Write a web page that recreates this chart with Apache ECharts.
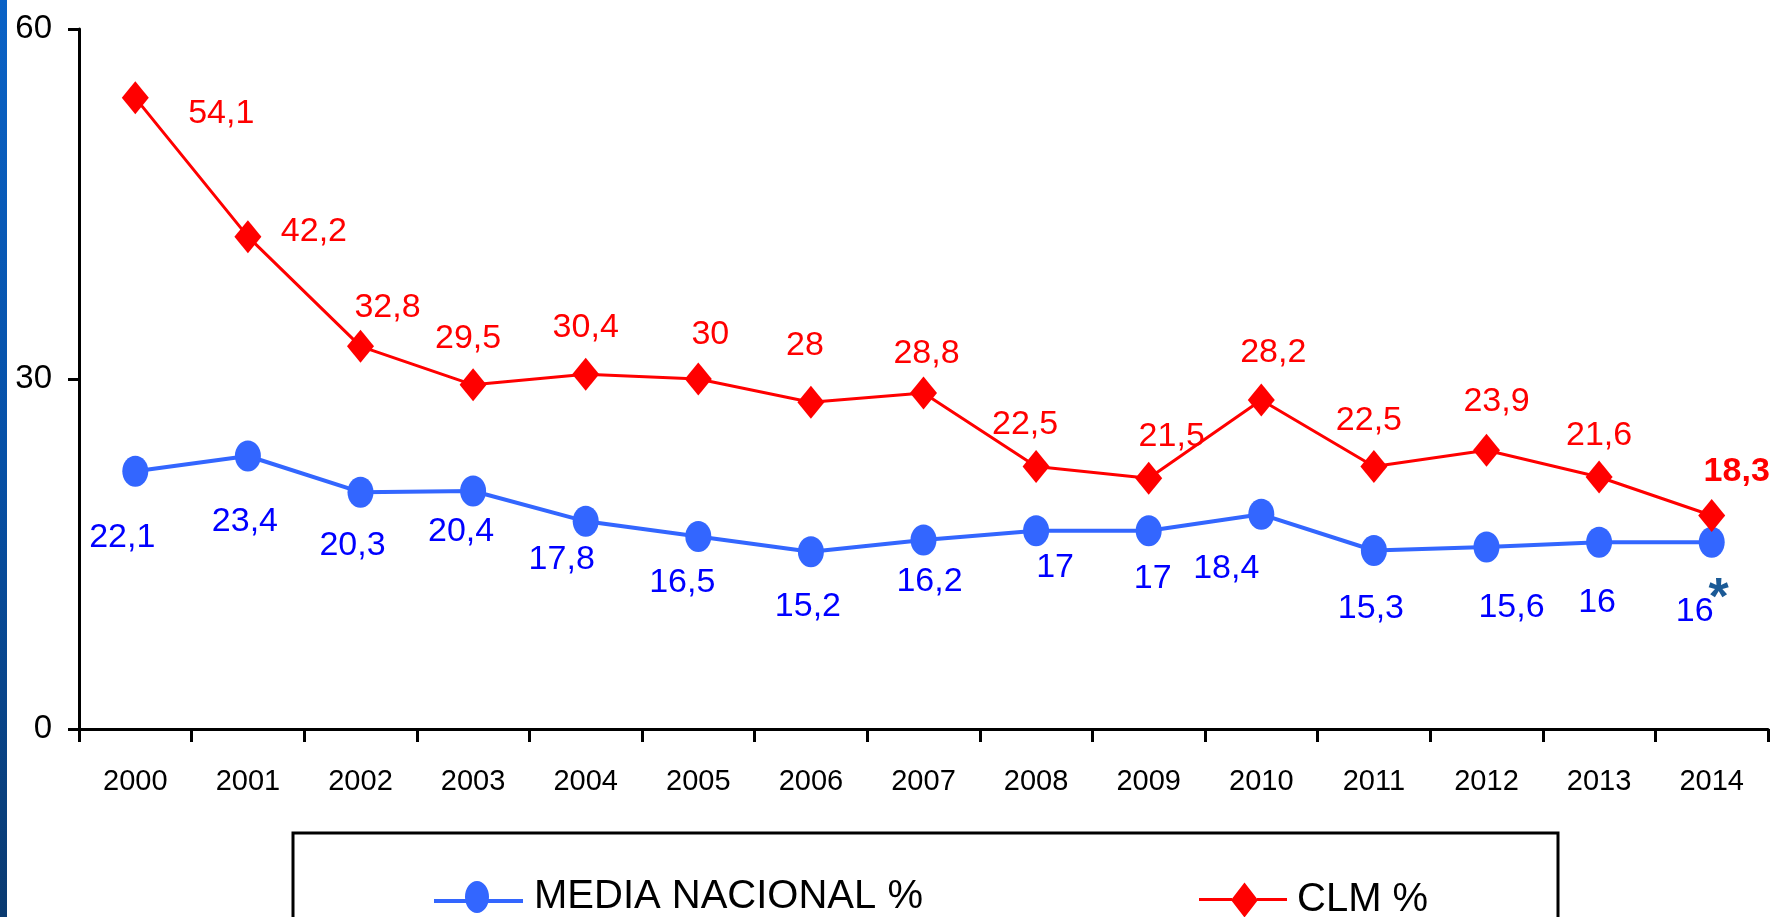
<!DOCTYPE html>
<html><head><meta charset="utf-8">
<script src="https://cdn.jsdelivr.net/npm/echarts@6/dist/echarts.min.js"></script>
<style>html,body{margin:0;padding:0;background:#fff}#c{width:1781px;height:917px}</style>
</head><body><div id="c"></div>
<script>
const years = ['2000','2001','2002','2003','2004','2005','2006','2007','2008','2009','2010','2011','2012','2013','2014'];
const mediaNacional = [22.1, 23.4, 20.3, 20.4, 17.8, 16.5, 15.2, 16.2, 17, 17, 18.4, 15.3, 15.6, 16, 16];
const clm = [54.1, 42.2, 32.8, 29.5, 30.4, 30, 28, 28.8, 22.5, 21.5, 28.2, 22.5, 23.9, 21.6, 18.3];
const yMin = 0, yMax = 60, yStep = 30;
const seriesNames = ['MEDIA NACIONAL %', 'CLM %'];

// label placement (styling only)
const clmLabelOffset = [[86,16],[66,-5],[27,-39],[-5,-46],[0,-47],[12,-44],[-6,-57],[3,-39],[-11,-42],[23,-42],[12,-47],[-5,-46],[10,-49],[0,-41],[25,-44]];
const mediaLabelOffset = [[-13,66],[-3,66],[-8,53],[-12,41],[-24,38],[-16,46],[-3,55],[6,42],[19,37],[4,48],[-35,54],[-3,58],[25,61],[-2,60],[-17,69]];

const FONT = "'Liberation Sans',Arial,sans-serif";
const fmt = v => String(v).replace('.', ',');

const chart = echarts.init(document.getElementById('c'));
chart.setOption({
  animation: false,
  backgroundColor: '#fff',
  grid: { left: 79, right: 13, top: 29, bottom: 188, containLabel: false },
  graphic: [
    { type: 'rect', shape: { x: 0, y: 0, width: 7, height: 917 }, z: 0,
      style: { fill: new echarts.graphic.LinearGradient(0, 0, 0, 1, [
        { offset: 0, color: '#0a62c6' }, { offset: 0.5, color: '#0650a6' }, { offset: 1, color: '#0a3a70' }]) } },
    { type: 'rect', shape: { x: 293, y: 833, width: 1265, height: 130 }, z: 0,
      style: { fill: 'none', stroke: '#000', lineWidth: 3 } }
  ],
  xAxis: {
    type: 'category', data: years, boundaryGap: true,
    axisLine: { lineStyle: { color: '#000', width: 3 } },
    axisTick: { show: true, length: 13, lineStyle: { color: '#000', width: 3 } },
    axisLabel: { color: '#000', fontFamily: FONT, fontSize: 29, margin: 38, interval: 0 },
    splitLine: { show: false }
  },
  yAxis: {
    type: 'value', min: yMin, max: yMax, interval: yStep,
    axisLine: { show: true, lineStyle: { color: '#000', width: 3 } },
    axisTick: { show: true, length: 11, lineStyle: { color: '#000', width: 3 } },
    axisLabel: { color: '#000', fontFamily: FONT, fontSize: 33, margin: 27 },
    splitLine: { show: false }
  },
  legend: [
    { data: [{ name: seriesNames[0], icon: 'path://M0,18H33V22H0Z M53,18H89V22H53Z M31,16A12,16 0 1 1 55,16A12,16 0 1 1 31,16Z' }],
      left: 434, top: 877, padding: 0, itemWidth: 89, itemHeight: 32, selectedMode: false,
      textStyle: { color: '#000', fontFamily: FONT, fontSize: 40, padding: [0,0,0,6] } },
    { data: [{ name: seriesNames[1], icon: 'path://M0,15.5H33V18.5H0Z M58,15.5H88V18.5H58Z M45.5,0L59,17.5L45.5,35L32,17.5Z' }],
      left: 1199, top: 880, padding: 0, itemWidth: 88, itemHeight: 35, selectedMode: false,
      textStyle: { color: '#000', fontFamily: FONT, fontSize: 40, padding: [0,0,8,5] } }
  ],
  series: [
    {
      name: seriesNames[0], type: 'line',
      data: mediaNacional.map((v, i) => ({ value: v, label: { offset: mediaLabelOffset[i] } })),
      symbol: 'path://M50,0A50,62 0 1 1 50,124A50,62 0 1 1 50,0Z', symbolSize: [26, 31],
      itemStyle: { color: '#3366FF' },
      lineStyle: { color: '#3366FF', width: 4 },
      label: { show: true, position: 'inside', formatter: p => fmt(p.value),
               color: '#0000FF', fontFamily: FONT, fontSize: 34 },
      markPoint: {
        symbol: 'circle', symbolSize: 1, itemStyle: { color: 'rgba(0,0,0,0)' },
        data: [{ coord: [years[14], mediaNacional[14]],
                 label: { show: true, formatter: '*', position: 'inside', offset: [7, 57],
                          color: '#1B5A96', fontFamily: FONT, fontSize: 52, fontWeight: 'bold' } }]
      },
      z: 2
    },
    {
      name: seriesNames[1], type: 'line',
      data: clm.map((v, i) => ({ value: v, label: { offset: clmLabelOffset[i], fontWeight: i === clm.length - 1 ? 'bold' : 'normal' } })),
      symbol: 'diamond', symbolSize: [27, 33],
      itemStyle: { color: '#FF0000' },
      lineStyle: { color: '#FF0000', width: 3 },
      label: { show: true, position: 'inside', formatter: p => fmt(p.value),
               color: '#FF0000', fontFamily: FONT, fontSize: 34 },
      z: 3
    }
  ]
});
</script></body></html>
